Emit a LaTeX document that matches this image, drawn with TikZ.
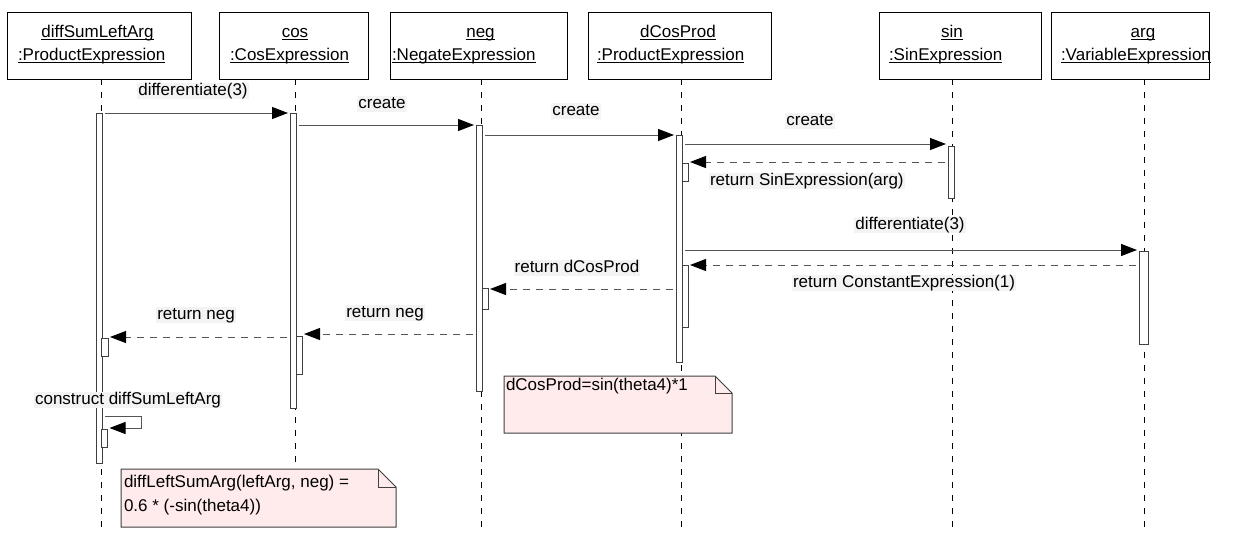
\documentclass[tikz,border=0pt]{standalone}
\usepackage{fontspec}
\setmainfont{Liberation Sans}
\usetikzlibrary{arrows.meta}
\definecolor{notefill}{RGB}{255,235,235}
\definecolor{lblbg}{RGB}{243,243,243}
\definecolor{linegray}{RGB}{85,85,85}
\begin{document}
\begin{tikzpicture}[x=1pt,y=-1pt,
  every node/.style={font=\fontsize{17pt}{20pt}\selectfont, inner sep=0pt, outer sep=0pt},
  hdr/.style={draw=black, line width=1pt, fill=white},
  htxt/.style={anchor=base},
  uline/.style={draw=black, line width=1pt},
  lifeline/.style={draw=black, line width=1pt, dash pattern=on 6pt off 7pt},
  actbar/.style={draw=black!75, line width=1pt, fill=white, anchor=north west},
  msg/.style={draw=linegray, line width=1pt, shorten <=3pt, shorten >=2pt,
              -{Triangle[length=16pt,width=12pt,color=black]}},
  ret/.style={msg, dash pattern=on 7pt off 6pt},
  lbl/.style={fill=lblbg, inner xsep=1pt, text height=12pt, text depth=3.5pt, anchor=base},
  note/.style={draw=black!75, line width=1pt, fill=notefill},
]
\useasboundingbox (0,0) rectangle (1239,533);
\fill[white] (0,0) rectangle (1239,533);

% lifelines
\coordinate (t1) at (101,79);  \coordinate (e1) at (101,533);
\coordinate (t2) at (295,79);  \coordinate (e2) at (295,533);
\coordinate (t3) at (481,79);  \coordinate (e3) at (481,533);
\coordinate (t4) at (681,79);  \coordinate (e4) at (681,533);
\coordinate (t5) at (952,79);  \coordinate (e5) at (952,533);
\coordinate (t6) at (1144,79); \coordinate (e6) at (1144,533);
\foreach \i in {1,...,6} {\draw[lifeline] (t\i) -- (e\i);}

% headers
\node[hdr, minimum width=184pt, minimum height=67pt] (h1) at (99,45.5) {};
\node[hdr, minimum width=149pt, minimum height=67pt] (h2) at (293.5,45.5) {};
\node[hdr, minimum width=177pt, minimum height=67pt] (h3) at (478.5,45.5) {};
\node[hdr, minimum width=183pt, minimum height=67pt] (h4) at (679.5,45.5) {};
\node[hdr, minimum width=162pt, minimum height=67pt] (h5) at (960,45.5) {};
\node[hdr, minimum width=158pt, minimum height=67pt] (h6) at (1130,45.5) {};

\node[htxt] (h1a) at (97.5,37) {diffSumLeftArg};
\node[htxt, anchor=base west] (h1b) at (18,60) {:ProductExpression};
\node[htxt] (h2a) at (295,37) {cos};
\node[htxt, anchor=base west] (h2b) at (230,60) {:CosExpression};
\node[htxt] (h3a) at (480.5,37) {neg};
\node[htxt, anchor=base west] (h3b) at (392,60) {:NegateExpression};
\node[htxt] (h4a) at (678,37) {dCosProd};
\node[htxt, anchor=base west] (h4b) at (597,60) {:ProductExpression};
\node[htxt] (h5a) at (952,37) {sin};
\node[htxt, anchor=base west] (h5b) at (889,60) {:SinExpression};
\node[htxt] (h6a) at (1143,37) {arg};
\node[htxt, anchor=base west] (h6b) at (1061,60) {:VariableExpression};
\foreach \n in {h1a,h1b,h2a,h2b,h3a,h3b,h4a,h4b,h5a,h5b,h6a,h6b}
  {\draw[uline] ([yshift=-2.5pt]\n.base west) -- ([yshift=-2.5pt]\n.base east);}

% activation bars
\node[actbar, minimum width=6pt, minimum height=350pt] (b1) at (96,113) {};
\node[actbar, minimum width=7pt, minimum height=18pt] (s11) at (101,338) {};
\node[actbar, minimum width=6pt, minimum height=18pt] (s12) at (101.5,429) {};
\node[actbar, minimum width=6pt, minimum height=295pt] (b2) at (290,113) {};
\node[actbar, minimum width=6pt, minimum height=38pt] (s21) at (296,336) {};
\node[actbar, minimum width=6pt, minimum height=266pt] (b3) at (476,125) {};
\node[actbar, minimum width=6pt, minimum height=21pt] (s31) at (482,288) {};
\node[actbar, minimum width=6pt, minimum height=227pt] (b4) at (676,135) {};
\node[actbar, minimum width=6pt, minimum height=18pt] (s41) at (682,163) {};
\node[actbar, minimum width=6pt, minimum height=62pt] (s42) at (682,265) {};
\node[actbar, minimum width=6pt, minimum height=52pt] (b5) at (948,146) {};
\node[actbar, minimum width=9pt, minimum height=93pt] (b6) at (1139,251) {};

% messages
\draw[msg] (b1.north east) -- (b2.north west);
\draw[msg] (b2.east |- b3.north west) -- (b3.north west);
\draw[msg] (b3.east |- b4.north west) -- (b4.north west);
\draw[msg] ([yshift=2pt]b4.east |- b5.north west) -- ([yshift=2pt]b5.north west);
\draw[ret] ([yshift=1pt]b5.west |- s41.north east) -- ([yshift=1pt]s41.north east);
\draw[msg] ([yshift=1pt]b4.east |- b6.north west) -- ([yshift=1pt]b6.north west);
\draw[ret] (b6.west |- s42.north east) -- (s42.north east);
\draw[ret] ([yshift=-1pt]b4.west |- s31.north east) -- ([yshift=-1pt]s31.north east);
\draw[ret] ([yshift=2pt]b3.west |- s21.north east) -- ([yshift=2pt]s21.north east);
\draw[ret] ([yshift=1pt]b2.west |- s11.north east) -- ([yshift=1pt]s11.north east);
\coordinate (selfc) at (141,416);
\draw[msg] (b1.east |- selfc) -- (selfc) |- ([yshift=1pt]s12.north east);

% labels
\node[lbl] (m1) at (193,95) {differentiate(3)};
\node[lbl] (m2) at (382,108) {create};
\node[lbl] (m3) at (576,115) {create};
\node[lbl] (m4) at (810,125) {create};
\node[lbl, anchor=base west] (m5) at (709,185) {return SinExpression(arg)};
\node[lbl] (m6) at (910,229) {differentiate(3)};
\node[lbl, anchor=base west] (m7) at (792,287) {return ConstantExpression(1)};
\node[lbl] (m8) at (577,272) {return dCosProd};
\node[lbl] (m9) at (385,317) {return neg};
\node[lbl] (m10) at (196,319) {return neg};
\node[lbl] (m11) at (128,404) {construct diffSumLeftArg};

% notes
\draw[note] (121,469) -- (378,469) -- (396,487) -- (396,527) -- (121,527) -- cycle;
\draw[note, fill=none] (378,469) -- (378,487) -- (396,487);
\node[anchor=base west] (n1a) at (124,487) {diffLeftSumArg(leftArg, neg) =};
\node[anchor=base west] (n1b) at (124,511) {0.6 * (-sin(theta4))};

\draw[note] (504,376) -- (715,376) -- (732,393) -- (732,433) -- (504,433) -- cycle;
\draw[note, fill=none] (715,376) -- (715,393) -- (732,393);
\node[anchor=base west] (n2) at (506,390) {dCosProd=sin(theta4)*1};
\end{tikzpicture}
\end{document}
